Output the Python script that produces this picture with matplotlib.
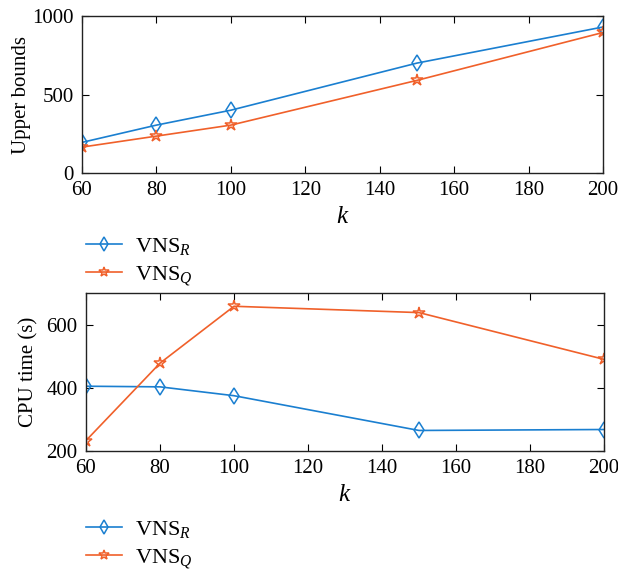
import matplotlib
matplotlib.use('Agg')
import matplotlib.pyplot as plt

k = [60, 80, 100, 150, 200]
ub_r = [195, 305, 400, 700, 930]
ub_q = [165, 235, 305, 590, 895]
cpu_r = [405, 403, 375, 265, 268]
cpu_q = [233, 478, 658, 638, 490]

BLUE = '#1a7fd0'
ORANGE = '#f0602a'

plt.rcParams['font.family'] = ['Liberation Serif', 'DejaVu Serif']
plt.rcParams['mathtext.fontset'] = 'custom'
plt.rcParams['mathtext.rm'] = 'Liberation Serif'
plt.rcParams['mathtext.it'] = 'Liberation Serif:italic'

W, H = 618, 572
fig = plt.figure(figsize=(W/100, H/100), dpi=100)

def ax_rect(l, t, r, b):
    return [l/W, 1 - b/H, (r-l)/W, (b-t)/H]

def style(ax):
    ax.tick_params(direction='in', top=True, right=True, labelsize=15, length=5, pad=6)
    for s in ax.spines.values():
        s.set_linewidth(1.0)
        s.set_color('#222222')

def add_legend(handles, top):
    fig.legend(handles, ['VNS$_R$', 'VNS$_Q$'], loc='upper left',
               bbox_to_anchor=(66/W, 1 - top/H), frameon=False, fontsize=16,
               handlelength=1.6, handletextpad=0.6, labelspacing=0.3,
               markerscale=0.85)

ax1 = fig.add_axes(ax_rect(82, 16, 603, 173))
l1, = ax1.plot(k, ub_r, color=BLUE, marker='d', mfc='none', ms=8, mew=1.1, lw=1.2)
l2, = ax1.plot(k, ub_q, color=ORANGE, marker='*', mfc='none', ms=9, mew=1.1, lw=1.2)
ax1.set_xlim(60, 200)
ax1.set_ylim(0, 1000)
ax1.set_yticks([0, 500, 1000])
ax1.set_xticks(range(60, 201, 20))
ax1.set_ylabel('Upper bounds', fontsize=15, labelpad=1)
ax1.set_xlabel('$k$', fontsize=18)
style(ax1)
add_legend([l1, l2], 216)

ax2 = fig.add_axes(ax_rect(86, 293, 604, 451))
m1, = ax2.plot(k, cpu_r, color=BLUE, marker='d', mfc='none', ms=8, mew=1.1, lw=1.2)
m2, = ax2.plot(k, cpu_q, color=ORANGE, marker='*', mfc='none', ms=9, mew=1.1, lw=1.2)
ax2.set_xlim(60, 200)
ax2.set_ylim(200, 700)
ax2.set_yticks([200, 400, 600])
ax2.set_xticks(range(60, 201, 20))
ax2.set_ylabel('CPU time (s)', fontsize=15, labelpad=6)
ax2.set_xlabel('$k$', fontsize=18)
style(ax2)
add_legend([m1, m2], 499)

fig.savefig('out.png', dpi=100)
